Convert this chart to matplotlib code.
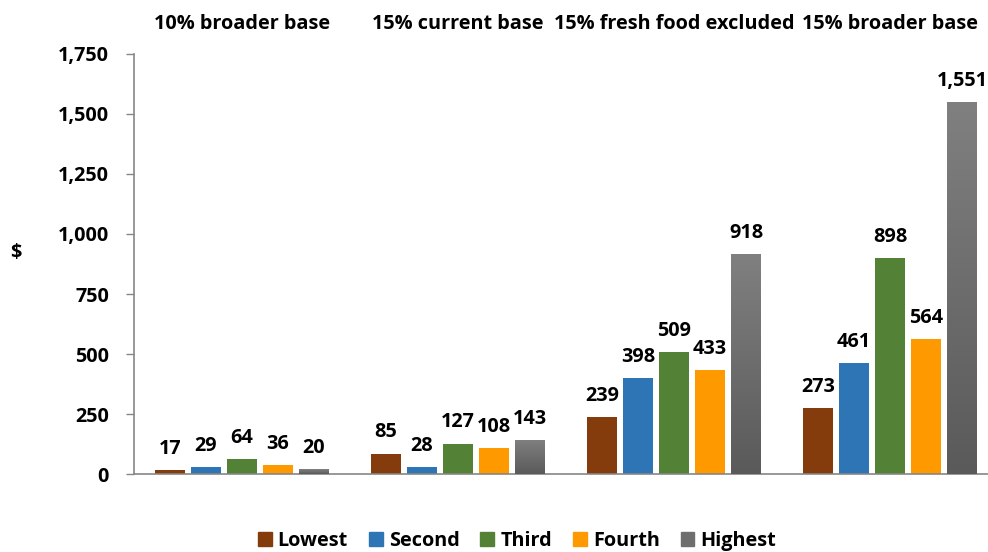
import matplotlib
matplotlib.use("Agg")
import matplotlib.pyplot as plt
import numpy as np
from matplotlib.colors import LinearSegmentedColormap

groups = ["10% broader base", "15% current base", "15% fresh food excluded", "15% broader base"]
series = ["Lowest", "Second", "Third", "Fourth", "Highest"]
values = {
    "Lowest":  [17, 85, 239, 273],
    "Second":  [29, 28, 398, 461],
    "Third":   [64, 127, 509, 898],
    "Fourth":  [36, 108, 433, 564],
    "Highest": [20, 143, 918, 1551],
}
yticks = [0, 250, 500, 750, 1000, 1250, 1500, 1750]
colors = ["#843C0C", "#2E75B6", "#538135", "#FF9900", "#6E6E6E"]

plt.rcParams['font.family'] = ['Open Sans', 'DejaVu Sans']
plt.rcParams['font.weight'] = 'bold'
FS = 14.3

fig = plt.figure(figsize=(9.88, 5.52), dpi=100)
ax = fig.add_axes([134/988, 1-474/552, 864/988, 420/552])

x = np.arange(len(groups))
pitch = 1/6
width = 0.137
gray_cmap = LinearSegmentedColormap.from_list("g", ["#5A5A5A", "#808080"])
for i, (s, c) in enumerate(zip(series, colors)):
    xs = x + (i - 2) * pitch
    vals = values[s]
    bars = ax.bar(xs, vals, width=width, color=c, zorder=2)
    if s == "Highest":
        for b in bars:
            bx, by = b.get_x(), b.get_y()
            bw, bh = b.get_width(), b.get_height()
            grad = np.linspace(0, 1, 256).reshape(-1, 1)
            im = ax.imshow(grad, cmap=gray_cmap, origin='lower', aspect='auto',
                           extent=[bx, bx + bw, by, by + bh], zorder=3)
            im.set_clip_path(b)
    for xi, v in zip(xs, vals):
        ax.annotate(f"{v:,}", (xi, v), xytext=(0, 8), textcoords='offset points',
                    ha='center', va='bottom', fontsize=FS, fontweight='bold', color='black')

ax.set_xlim(-0.5, 3.5)
ax.set_ylim(0, 1750)
ax.set_yticks(yticks)
ax.set_yticklabels([f"{t:,}" for t in yticks], fontsize=FS, fontweight='bold')
ax.tick_params(axis='y', length=6, color='#868686', width=1, pad=12)
ax.set_xticks(x)
ax.set_xticklabels(groups, fontsize=FS, fontweight='bold')
ax.tick_params(axis='x', which='both', bottom=False, top=False, labelbottom=False, labeltop=True, pad=11)
for sp in ['top', 'right']:
    ax.spines[sp].set_visible(False)
for sp in ['left', 'bottom']:
    ax.spines[sp].set_color('#868686')
    ax.spines[sp].set_linewidth(1.2)
ax.set_ylabel("$", rotation=0, fontsize=FS, fontweight='bold', labelpad=0, va='center', ha='center')
ax.yaxis.set_label_coords(-(134 - 16) / 864, (474 - 253) / 420)

handles = [plt.Rectangle((0, 0), 1, 1, color=c) for c in colors]
fig.legend(handles, series, loc='center', bbox_to_anchor=(517/988, 1-541/552), ncol=5,
           frameon=False, prop={'weight': 'bold', 'size': FS}, handlelength=0.7,
           handleheight=0.7, handletextpad=0.3, columnspacing=1.05)

fig.savefig("out.png", dpi=100)
